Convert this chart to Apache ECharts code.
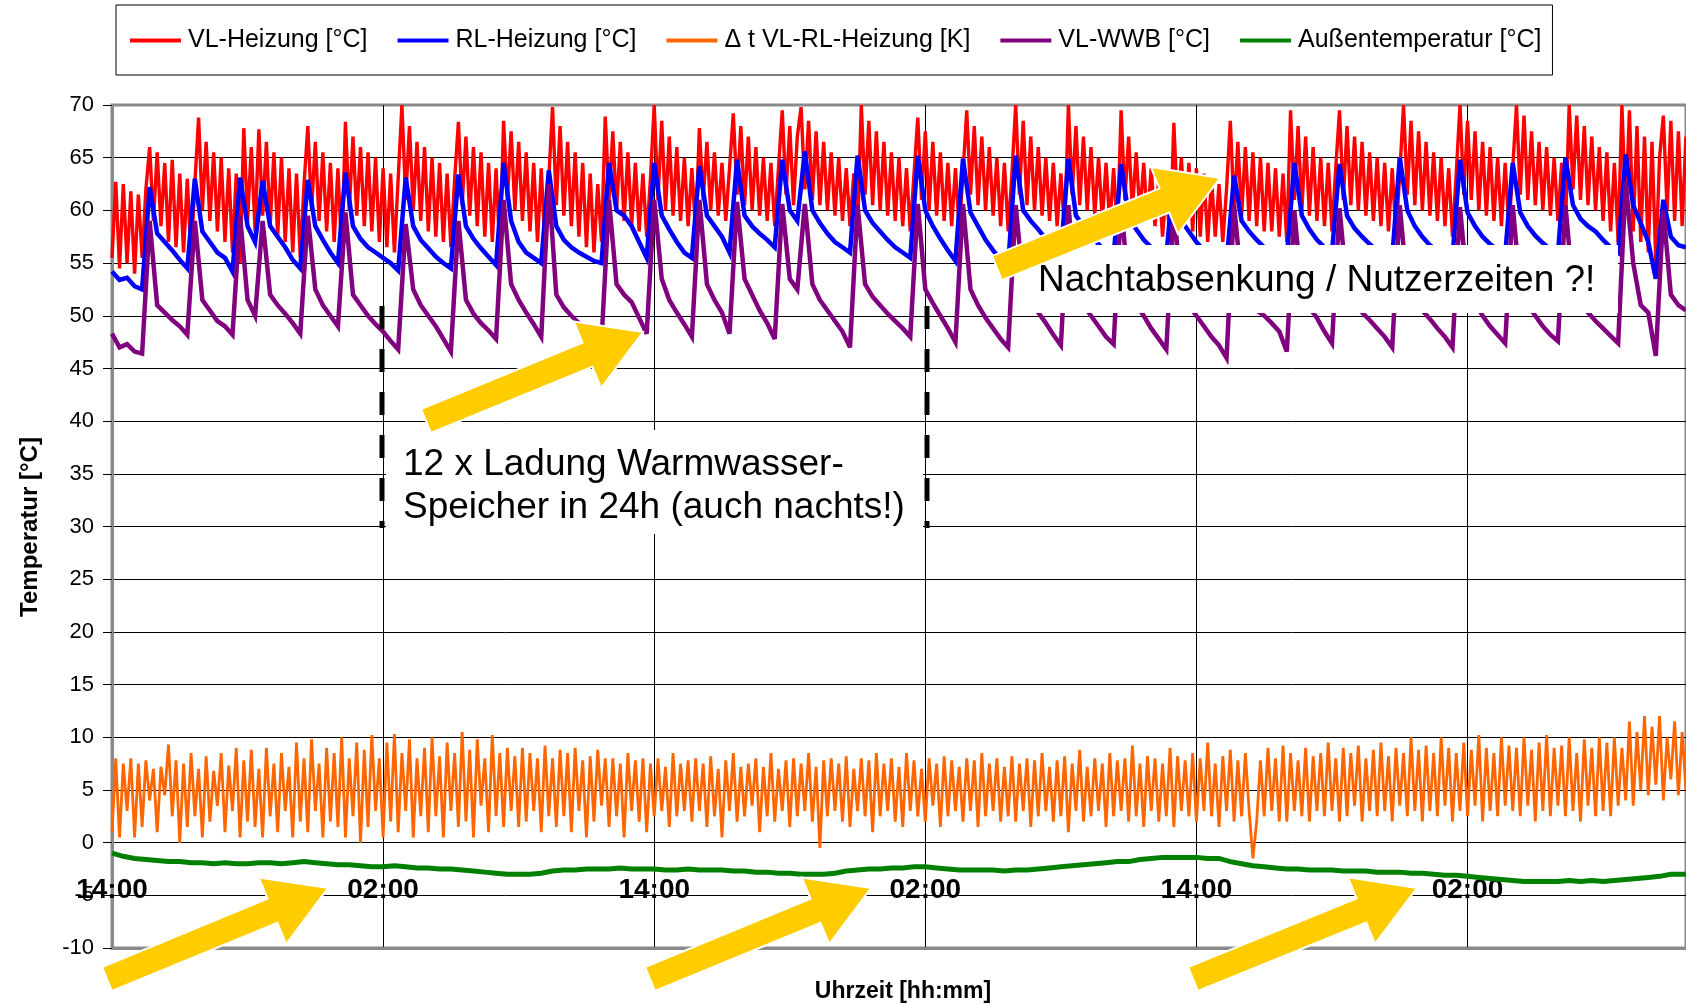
<!DOCTYPE html>
<html><head><meta charset="utf-8">
<script src="https://cdn.jsdelivr.net/npm/echarts@6/dist/echarts.min.js"></script>
<style>html,body{margin:0;padding:0;background:#fff}#c{width:1686px;height:1005px}</style>
</head><body><div id="c"></div>
<script>
const FONT = '"Liberation Sans", Arial, sans-serif';
const seriesNames = ['VL-Heizung [°C]', 'RL-Heizung [°C]', 'Δ t VL-RL-Heizung [K]', 'VL-WWB [°C]', 'Außentemperatur [°C]'];
const seriesColors = ['#FF0000', '#0000FF', '#FF6600', '#800080', '#008000'];
const xTickLabels = ['14:00', '02:00'];   // every 12 h, starting at 14:00
const yMin = -10, yMax = 70, yStep = 5;
const xMaxHours = 69.67;

// VL-Heizung, one value every 10 min (hours from 14:00)
const vlStepH = 1 / 6;
const vlHeizung = [
  55.5, 62.7, 54.5, 62.5, 55, 61.8, 54, 61.5, 55.5, 62,
  66, 59, 65.5, 58.5, 64.5, 57, 64.8, 56.5, 63.5, 56, 63, 55.5, 62.5,
  68.8, 60, 66.5, 59, 65.5, 58, 65, 57, 64, 56, 63.5, 55,
  67.8, 59, 66, 58,
  67.7, 59.5, 66.5, 58.5, 65.5, 57.5, 65, 57, 64, 56, 63.5, 55.5, 62.5,
  68, 60, 66.5, 59, 65.5, 58, 64.5, 57, 64, 56,
  68.4, 60, 67, 59.5, 66, 58.5, 65.5, 58, 65, 57, 64, 56.5, 63.5, 56, 63,
  70, 61, 68, 60, 66.5, 59, 66, 58, 65, 57.5, 64.5, 57, 63.5, 56.5, 63,
  68.4, 60.5, 67, 59.5, 66, 58.5, 65.5, 57.5, 64.5, 57, 64, 56,
  68.5, 61, 67.5, 60, 66.5, 59, 65.5, 58, 64.5, 57, 64, 56.5, 63,
  69.8, 60.5, 68, 59.5, 66.5, 58.5, 65.5, 57.5, 64.5, 56.5, 63.5, 56, 62.5, 57,
  68.9, 61, 67.5, 60, 66.5, 59, 65.5, 58.5, 64.5, 58, 63.5, 57.5, 63,
  70, 61, 68.5, 60, 67, 59.5, 66, 59, 65, 58.5, 64, 58,
  67.8, 61, 66.5, 60, 65.5, 59.5, 64.5, 59, 64,
  69.2, 61.5, 68, 60.5, 67, 60, 66, 59.5, 65, 59, 64.5, 58.5, 64,
  69.5, 61.5, 68, 60.5, 67,
  69.8, 62, 68.5, 61, 67.5, 60.5, 66.5, 60, 65.5, 59.5, 65, 59, 64, 58.5, 63.5, 58,
  70, 61.5, 68.5, 60.5, 67.5, 60, 66.5, 59.5, 65.5, 59, 65, 58.5, 64, 58, 63.5,
  68.8, 61, 67.5, 60, 66.5, 59.5, 65.5, 59, 64.5, 58.5, 64, 58, 63.5,
  69.5, 61.5, 68, 60.5, 67, 60, 66, 59.5, 65, 58.5, 64.5, 58, 63.5,
  70, 61.5, 68.5, 60.5, 67, 60, 66, 59.5, 65, 59, 64.5, 58.5, 63.5, 58,
  70, 61.5, 68, 60.5, 67, 60, 66, 59.5, 65, 59, 64.5, 58.5, 64, 58,
  69.5, 61, 67, 60, 65.5, 59.5, 64.5, 59, 64, 58.5, 63, 57.5, 62, 57,
  68.3, 60, 65, 59, 64.5, 58, 64, 57.5, 63.5, 57, 63, 57.5, 62.5, 57, 62,
  68.5, 60, 66.5, 59.5, 66, 59, 65.5, 58.5, 65, 58, 64.5, 58, 64, 57.5, 63.5, 57,
  69.5, 61, 68, 60, 67, 59.5, 66, 59, 65, 58.5, 64.5, 58, 64,
  69.5, 61, 68, 60.5, 67, 60, 66.5, 59.5, 65.5, 59, 65, 58.5, 64.5, 58, 64, 57.5, 63.5,
  70, 61.5, 68.5, 60.5, 67.5, 60, 66.5, 59.5, 65.5, 59, 65, 58.5, 64, 57.5, 63.5,
  70, 61.5, 68.5, 61, 67.5, 60, 66.5, 59.5, 66, 59, 65, 58.5, 64.5, 58, 64,
  70, 61.5, 69, 61, 67.5, 60.5, 66.5, 60, 66, 59.5, 65, 59, 64.5, 58.5,
  70, 62, 69, 61, 68, 60.5, 67, 60, 66, 59, 65.5, 58, 64.5, 57,
  70, 60, 69.5, 58, 68, 57, 67, 56, 66.5, 55, 65,
  69, 60, 68.5, 59, 67.5, 58.5, 67
];

// RL-Heizung, one value every 20 min
const wStepH = 1 / 3;
const rlHeizung = [
  54.2, 53.4, 53.6, 52.8, 52.5,
  62.2, 57.8, 57, 56.2, 55.3, 54.5,
  63, 58, 57, 56, 55.5, 54.2,
  63.1, 58.5, 57,
  62.8, 58.5, 57.5, 56.5, 55.3, 54.5,
  62.9, 58.5, 57.2, 56, 55,
  63.6, 58.5, 57.3, 56.5, 56, 55.5, 55, 54.3,
  63.1, 58.5, 57.2, 56.4, 55.6, 55, 54.5,
  63.4, 58.5, 57.3, 56.4, 55.6, 54.8,
  64.5, 59, 57, 56, 55.5, 55,
  63.8, 58.5, 57.2, 56.5, 56, 55.6, 55.2, 55,
  64.5, 60, 59.5, 58.5, 57, 55.5,
  64.5, 59.5, 58.2, 57, 56, 55.5,
  64.2, 59.5, 58.5, 57.5, 56,
  64.8, 59.5, 58.5, 57.8, 57.2, 56.5,
  64.8, 60, 59,
  65.6, 60, 58.8, 57.8, 57, 56.5, 56,
  65.2, 60, 58.8, 58, 57.2, 56.5, 56, 55.5,
  65.2, 60, 58.5, 57.3, 56.2, 55.2,
  64.9, 59.8, 58.5, 57.2, 56.2, 55.3, 54.8,
  65.2, 60, 59, 58.2, 57.3, 56.5, 56,
  64.9, 59.5, 58.5, 57.5, 56.8, 56, 55.6,
  64.4, 59.5, 58.2, 57.2, 56.5, 56, 55.7,
  63.5, 59, 58, 57, 56.2, 55.6, 55.2, 55,
  63.3, 59, 58, 57.2, 56.5, 56, 55.7, 55.5,
  64.5, 59.5, 58.2, 57.2, 56.5, 56,
  64.4, 59.5, 58.3, 57.5, 56.8, 56.2, 55.8, 55.5,
  65, 60, 58.5, 57.5, 56.7, 56.2, 55.8, 55.5,
  64.8, 59.8, 58.5, 57.5, 56.8, 56.2, 55.8,
  64.5, 59.8, 58.5, 57.6, 56.9, 56.3, 55.9,
  65, 60.5, 59.2, 58.5, 58, 57.2, 56.5, 56,
  65.3, 60.5, 58.8, 57, 53.5,
  61, 57.5, 56.7, 56.5
];

// Δt VL-RL, one value every 10 min
const deltaT = [
  1, 8, 0.5, 7.5, 3, 8, 0.5, 7.5, 1.5, 7.8, 4, 7,
  1, 7.2, 4.5, 9.3, 2.5, 7.8, 0, 7.5, 1.5, 8.5, 2.5, 7,
  0.5, 8.2, 2, 6.8, 3.5, 8.5, 1, 7.3, 3, 9, 0.5, 7.8,
  2, 8.8, 1.5, 7, 0.5, 9, 2.5, 7.5, 1, 8.5, 3, 7.2,
  0.5, 9.5, 2, 8, 1, 9.8, 3, 7.5, 0.5, 9, 2, 8.5,
  1.5, 10, 0.5, 8, 2.5, 9.5, 0, 8.8, 1.5, 10.2, 3, 8,
  0.5, 9.5, 2, 10.3, 1, 8.5, 3, 9.8, 0.5, 8, 2.5, 9,
  1, 10, 2.5, 8.2, 0.5, 9.5, 3, 8.5, 1.5, 10.5, 2, 8.8,
  0.5, 9.8, 3.5, 8, 1, 10.2, 2.5, 8.5, 1.5, 9, 3, 8.2,
  1.5, 9, 2, 8.5, 3, 8, 1, 9.2, 2.5, 8, 1.5, 8.8,
  2.5, 8.5, 1, 9, 3, 7.8, 0.5, 8.2, 2, 8.8, 3.5, 8,
  1.5, 8, 2.5, 7.5, 0.5, 8.5, 3, 7.8, 2, 8, 1, 7.5,
  2.5, 8, 3, 7.2, 1.5, 8.5, 2.5, 7.5, 3, 7.8, 2, 8,
  3, 7.5, 1.5, 8.2, 2.5, 7, 0.5, 7.8, 3, 8.5, 2, 7.2,
  2.5, 7.5, 3.5, 8, 1, 7.2, 2.5, 8.5, 2, 7, 3, 7.8,
  1.5, 8, 2.5, 7.5, 3, 8.5, 2, 7.2, -0.5, 7.8, 2.5, 8,
  3, 7.5, 2, 8.2, 1.5, 7, 3, 8, 2.5, 7.8, 1, 8.5,
  2.5, 7.5, 3, 8, 2, 7.2, 1.5, 8.5, 3, 7.8, 2.5, 7,
  2, 8, 3.5, 7.5, 1.5, 8.2, 2.5, 7.8, 3, 7.2, 2, 8,
  3, 7.8, 1.5, 8.5, 2.5, 7.5, 3, 8, 2, 7.2, 2.5, 8.2,
  2, 7.5, 3, 8, 1.5, 7.8, 2.5, 8.5, 3, 7.2, 2, 7.8,
  2.5, 8.2, 1, 7.5, 3, 8.8, 2, 7.2, 2.5, 8, 3, 7.5,
  1.5, 8.5, 2.5, 7.8, 3, 8, 2, 9.2, 2.5, 7.5, 1.5, 8.2,
  3, 8, 2, 7.5, 2.5, 9, 1.5, 8.2, 3, 7.8, 2.5, 8.5,
  2, 8, 3, 9.5, 2.5, 7.5, 1.5, 8.2, 3, 8.8, 2, 7.8,
  2.5, 8.5, 3, -1.5, 2, 7.8, 2.5, 9, 3, 8, 2, 9.2,
  2, 8.5, 3, 7.8, 2.5, 9, 2, 8.2, 3, 8.5, 2.5, 9.5,
  3, 8, 2, 9, 2.5, 8.5, 3.5, 9.2, 2, 8, 3, 8.8,
  2.5, 9.5, 3, 8.2, 2, 9, 3.5, 8.5, 2.5, 10, 3, 8.8,
  2, 9.2, 3, 8.5, 2.5, 10, 3.5, 9, 2, 8.5, 3, 9.5,
  2.5, 8.8, 3.5, 10.2, 2, 9, 3, 8.5, 2.5, 10, 3.5, 9.2,
  3, 9, 2.5, 10, 3.5, 8.8, 2, 9.5, 3, 10.2, 2.5, 9,
  3.5, 9.2, 2.5, 10, 3, 8.5, 2, 9.8, 3.5, 9, 2.5, 10,
  3, 9.5, 2.5, 10, 3.5, 9, 4, 11.5, 3.5, 10.5, 5, 12,
  4.5, 11, 5.5, 12, 4, 10, 6, 11.5, 4.5, 10.5, 5
];

// VL-WWB, one value every 20 min
const vlWWB = [
  48.3, 47.0, 47.3, 46.6, 46.4,
  59, 51, 50.3, 49.6, 49, 48.2,
  59, 51.5, 50.5, 49.5, 49, 48.2,
  59.5, 51.5, 50,
  59, 52, 51, 50.2, 49.3, 48.3,
  59.5, 52.5, 51, 50, 49,
  59.8, 52, 51, 50, 49.2, 48.5, 47.6, 46.8,
  58.7, 52.5, 51, 50, 49, 47.8, 46.6,
  59, 51.5, 50.2, 49.3, 48.6, 47.8,
  61, 53, 51.5, 50.3, 49.2, 48,
  62.5, 52, 50.8, 50, 49.3, 48.7, 48.2, 47.6,
  61, 53, 52, 51.3, 49.8, 48.3,
  61, 53.5, 51.5, 50.3, 49.2, 48,
  61, 53, 51.5, 50.3, 48.3,
  60.8, 53.5, 52, 50.5, 49.3, 47.8,
  60.6, 53.5, 52.5,
  60.6, 53, 51.5, 50.5, 49.5, 48.5, 47,
  60.5, 53, 51.8, 51, 50.2, 49.5, 48.8, 48,
  60.6, 52.5, 51.2, 50, 48.8, 47.5,
  60.6, 52.5, 51, 49.8, 48.8, 47.8, 47,
  60.5, 53, 51.5, 50.3, 49.3, 48.2, 47.2,
  60.5, 52.5, 51, 50, 49, 48, 47.3,
  60.5, 52.5, 51, 50, 48.8, 47.8, 46.8,
  60.3, 52, 51, 50, 49, 48, 47.2, 46,
  60.5, 53, 51.5, 50.5, 50, 49.3, 48.5, 46.6,
  60, 52, 50.8, 49.8, 48.5, 47.4,
  60.2, 52.5, 51.2, 50.3, 49.6, 48.8, 48, 47,
  60.5, 52.5, 51.3, 50.5, 49.7, 48.8, 48, 47,
  60.3, 52.5, 51.3, 50, 49, 48.2, 47.4,
  60.5, 52.5, 51, 50, 49, 48.2, 47.6,
  60.5, 52.5, 51.3, 50.3, 49.5, 48.8, 48.1, 47.4,
  62.7, 55, 51, 50.3, 46.2,
  60, 52, 51, 50.5
];

// Außentemperatur, one value every 30 min
const aStepH = 0.5;
const aussen = [
  -1.0,-1.3,-1.5,-1.6,-1.7,-1.8,-1.8,-1.9,-1.9,-2.0,
  -1.9,-2.0,-2.0,-1.9,-1.9,-2.0,-1.9,-1.8,-1.9,-2.0,
  -2.1,-2.1,-2.2,-2.3,-2.3,-2.2,-2.3,-2.4,-2.4,-2.5,
  -2.5,-2.6,-2.7,-2.8,-2.9,-3.0,-3.0,-3.0,-2.9,-2.7,
  -2.6,-2.6,-2.5,-2.5,-2.5,-2.4,-2.5,-2.5,-2.5,-2.6,
  -2.6,-2.5,-2.6,-2.6,-2.6,-2.7,-2.7,-2.8,-2.8,-2.9,
  -2.9,-3.0,-3.0,-3.0,-2.9,-2.7,-2.6,-2.5,-2.5,-2.4,
  -2.4,-2.3,-2.3,-2.4,-2.5,-2.6,-2.6,-2.6,-2.6,-2.7,
  -2.6,-2.6,-2.5,-2.4,-2.3,-2.2,-2.1,-2.0,-1.9,-1.8,
  -1.8,-1.6,-1.5,-1.4,-1.4,-1.4,-1.4,-1.5,-1.5,-1.8,
  -2.0,-2.2,-2.3,-2.4,-2.5,-2.5,-2.6,-2.6,-2.6,-2.7,
  -2.7,-2.7,-2.8,-2.8,-2.8,-2.9,-2.9,-3.0,-3.1,-3.1,
  -3.2,-3.3,-3.4,-3.5,-3.6,-3.7,-3.7,-3.7,-3.7,-3.6,
  -3.7,-3.6,-3.7,-3.6,-3.5,-3.4,-3.3,-3.2,-3.0,-3.0,
  -3.0
];

const toXY = (arr, step) => arr.map((v, i) => [i * step, v]);

const chart = echarts.init(document.getElementById('c'), null, {renderer: 'canvas'});

function arrow(tx, ty, px, py) {
  const dx = px - tx, dy = py - ty, len = Math.hypot(dx, dy);
  const ux = dx / len, uy = dy / len, nx = -uy, ny = ux;
  const b = 13, h = 36, L = 60;
  const bx = px - ux * L, by = py - uy * L;
  return {
    type: 'polygon', z: 200,
    shape: {points: [
      [tx + nx * b, ty + ny * b], [bx + nx * b, by + ny * b], [bx + nx * h, by + ny * h],
      [px, py], [bx - nx * h, by - ny * h], [bx - nx * b, by - ny * b], [tx - nx * b, ty - ny * b]
    ]},
    style: {fill: '#FFCC00', stroke: '#ffffff', lineWidth: 2}
  };
}

function lineSeries(name, data, color, width) {
  return {
    name, type: 'line', data, showSymbol: false, symbol: 'none',
    lineStyle: {color, width, join: 'miter', miterLimit: 4}, itemStyle: {color}, animation: false, clip: true
  };
}

const option = {
  animation: false,
  backgroundColor: '#ffffff',
  color: seriesColors,
  textStyle: {fontFamily: FONT},
  grid: {left: 112, top: 105, right: -4, bottom: 57, show: true, borderColor: '#8a8a8a', borderWidth: 3, backgroundColor: '#ffffff'},
  legend: {
    left: 116, top: 5, orient: 'horizontal',
    padding: [23, 11, 22, 14], itemGap: 30, itemWidth: 51, itemHeight: 4, icon: 'rect',
    borderColor: '#000', borderWidth: 1, backgroundColor: '#fff',
    textStyle: {fontSize: 25, fontFamily: FONT, color: '#000', padding: [0, 0, 0, 2]},
    data: seriesNames
  },
  xAxis: {
    type: 'value', min: 0, max: xMaxHours, interval: 12,
    axisLine: {show: true, onZero: false, lineStyle: {color: '#8a8a8a', width: 3}},
    axisTick: {show: false},
    axisLabel: {
      show: true, margin: -72, showMinLabel: true, showMaxLabel: false,
      fontSize: 28, fontWeight: 'bold', color: '#000', fontFamily: FONT,
      formatter: v => xTickLabels[Math.round(v / 12) % 2]
    },
    splitLine: {show: true, showMinLine: false, showMaxLine: false, lineStyle: {color: '#000', width: 1}}
  },
  yAxis: {
    type: 'value', min: yMin, max: yMax, interval: yStep,
    axisLine: {show: true, onZero: false, lineStyle: {color: '#8a8a8a', width: 3}},
    axisTick: {show: true, length: 9, lineStyle: {color: '#000', width: 1}},
    axisLabel: {fontSize: 22, color: '#000', margin: 18, fontFamily: FONT},
    splitLine: {show: true, showMinLine: false, showMaxLine: false, lineStyle: {color: '#000', width: 1}}
  },
  series: [
    lineSeries(seriesNames[0], toXY(vlHeizung, vlStepH), seriesColors[0], 3.4),
    lineSeries(seriesNames[1], toXY(rlHeizung, wStepH), seriesColors[1], 4.5),
    lineSeries(seriesNames[2], toXY(deltaT, vlStepH), seriesColors[2], 2.8),
    lineSeries(seriesNames[3], toXY(vlWWB, wStepH), seriesColors[3], 4.5),
    lineSeries(seriesNames[4], toXY(aussen, aStepH), seriesColors[4], 5)
  ],
  graphic: [
    {type: 'text', z: 100, x: 30, y: 527, rotation: Math.PI / 2,
      style: {text: 'Temperatur [°C]', fontSize: 24, fontWeight: 'bold', fontFamily: FONT, fill: '#000', align: 'center', verticalAlign: 'middle'}},
    {type: 'text', z: 100, x: 903, y: 992,
      style: {text: 'Uhrzeit [hh:mm]', fontSize: 23, fontWeight: 'bold', fontFamily: FONT, fill: '#000', align: 'center', verticalAlign: 'middle'}},
    {type: 'line', z: 150, shape: {x1: 382, y1: 306, x2: 382, y2: 528}, style: {stroke: '#000', lineWidth: 5, lineDash: [23, 20]}},
    {type: 'line', z: 150, shape: {x1: 927, y1: 306, x2: 927, y2: 528}, style: {stroke: '#000', lineWidth: 5, lineDash: [23, 20]}},
    {type: 'rect', z: 150, shape: {x: 386, y: 430, width: 537, height: 104}, style: {fill: '#fff'}},
    {type: 'text', z: 160, x: 403, y: 465,
      style: {text: '12 x Ladung Warmwasser-', fontSize: 37, fontFamily: FONT, fill: '#000', align: 'left', verticalAlign: 'middle'}},
    {type: 'text', z: 160, x: 403, y: 508,
      style: {text: 'Speicher in 24h (auch nachts!)', fontSize: 37, fontFamily: FONT, fill: '#000', align: 'left', verticalAlign: 'middle'}},
    {type: 'rect', z: 150, shape: {x: 1017, y: 245, width: 601, height: 68}, style: {fill: '#fff'}},
    {type: 'text', z: 160, x: 1038, y: 281,
      style: {text: 'Nachtabsenkung / Nutzerzeiten ?!', fontSize: 37, fontFamily: FONT, fill: '#000', align: 'left', verticalAlign: 'middle'}},
    arrow(426, 421, 643, 332),
    arrow(997, 268, 1220, 178),
    arrow(107, 979, 328, 888),
    arrow(650, 979, 871, 888),
    arrow(1193, 979, 1417, 888)
  ]
};
chart.setOption(option);
</script>
</body></html>
